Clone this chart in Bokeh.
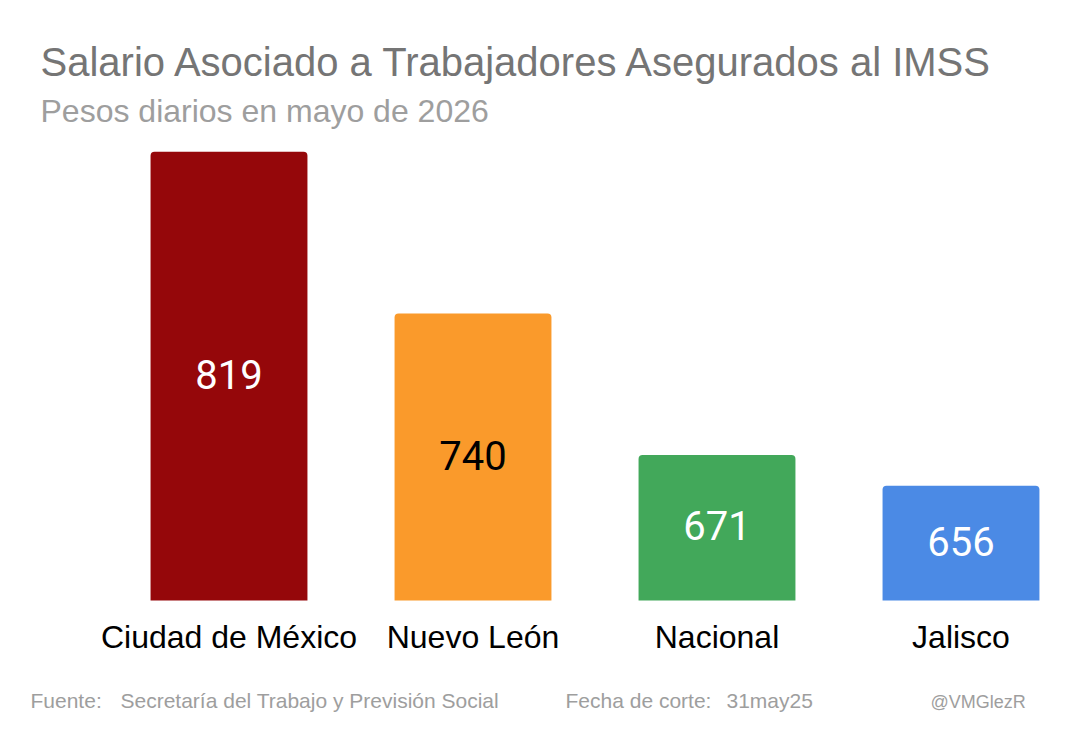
from bokeh.plotting import figure
from bokeh.models import ColumnDataSource, Label
from bokeh.core.properties import value
from bokeh.embed import file_html
from bokeh.resources import INLINE

estados = ["Ciudad de México", "Nuevo León", "Nacional", "Jalisco"]
salario = [819, 740, 671, 656]
colores = ["#95070A", "#FA9A2B", "#42A85A", "#4B8AE5"]
color_texto = ["white", "black", "white", "white"]
base = 600

pos = list(range(len(estados)))
src = ColumnDataSource(dict(
    x=pos,
    top=salario,
    color=colores,
    txt_color=color_texto,
    label=[str(v) for v in salario],
    ymid=[(base + v) / 2 for v in salario],
    estado=estados,
    base=[base] * len(estados),
))

p = figure(width=1070, height=742, output_backend="svg", toolbar_location=None,
           x_range=(-0.9365, 3.4488), y_range=(530.7, 892.8),
           x_axis_location=None, y_axis_location=None, min_border=0)
p.outline_line_color = None
p.grid.visible = False

p.vbar(x="x", top="top", bottom=base, width=0.643, source=src,
       fill_color="color", line_color=None, border_radius=(4, 4, 0, 0))

# valores dentro de las barras
p.text(x="x", y="ymid", text="label", source=src, text_color="txt_color",
       text_align="center", text_baseline="middle", y_offset=-2,
       text_font=value("Roboto"), text_font_size="40px")

# nombres de las categorias bajo las barras
p.text(x="x", y="base", text="estado", source=src, text_color="black",
       text_align="center", text_baseline="alphabetic", y_offset=37,
       text_font=value("Liberation Sans"), text_font_size="32px")

def etiqueta(texto, x, y, size, color):
    p.add_layout(Label(x=x, y=y, x_units="screen", y_units="screen", text=texto,
                       text_font="Liberation Sans", text_font_size=size,
                       text_color=color, text_baseline="alphabetic"))

etiqueta("Salario Asociado a Trabajadores Asegurados al IMSS", 40, 681, "40px", "#757575")
etiqueta("Pesos diarios en mayo de 2026", 40, 632, "32px", "#9E9E9E")
etiqueta("Fuente:", 30, 42, "21px", "#9E9E9E")
etiqueta("Secretaría del Trabajo y Previsión Social", 120, 42, "21px", "#9E9E9E")
etiqueta("Fecha de corte:", 565, 42, "21px", "#9E9E9E")
etiqueta("31may25", 726, 42, "21px", "#9E9E9E")
etiqueta("@VMGlezR", 930, 41, "18px", "#9E9E9E")

open("out.html", "w").write(file_html(p, INLINE))
